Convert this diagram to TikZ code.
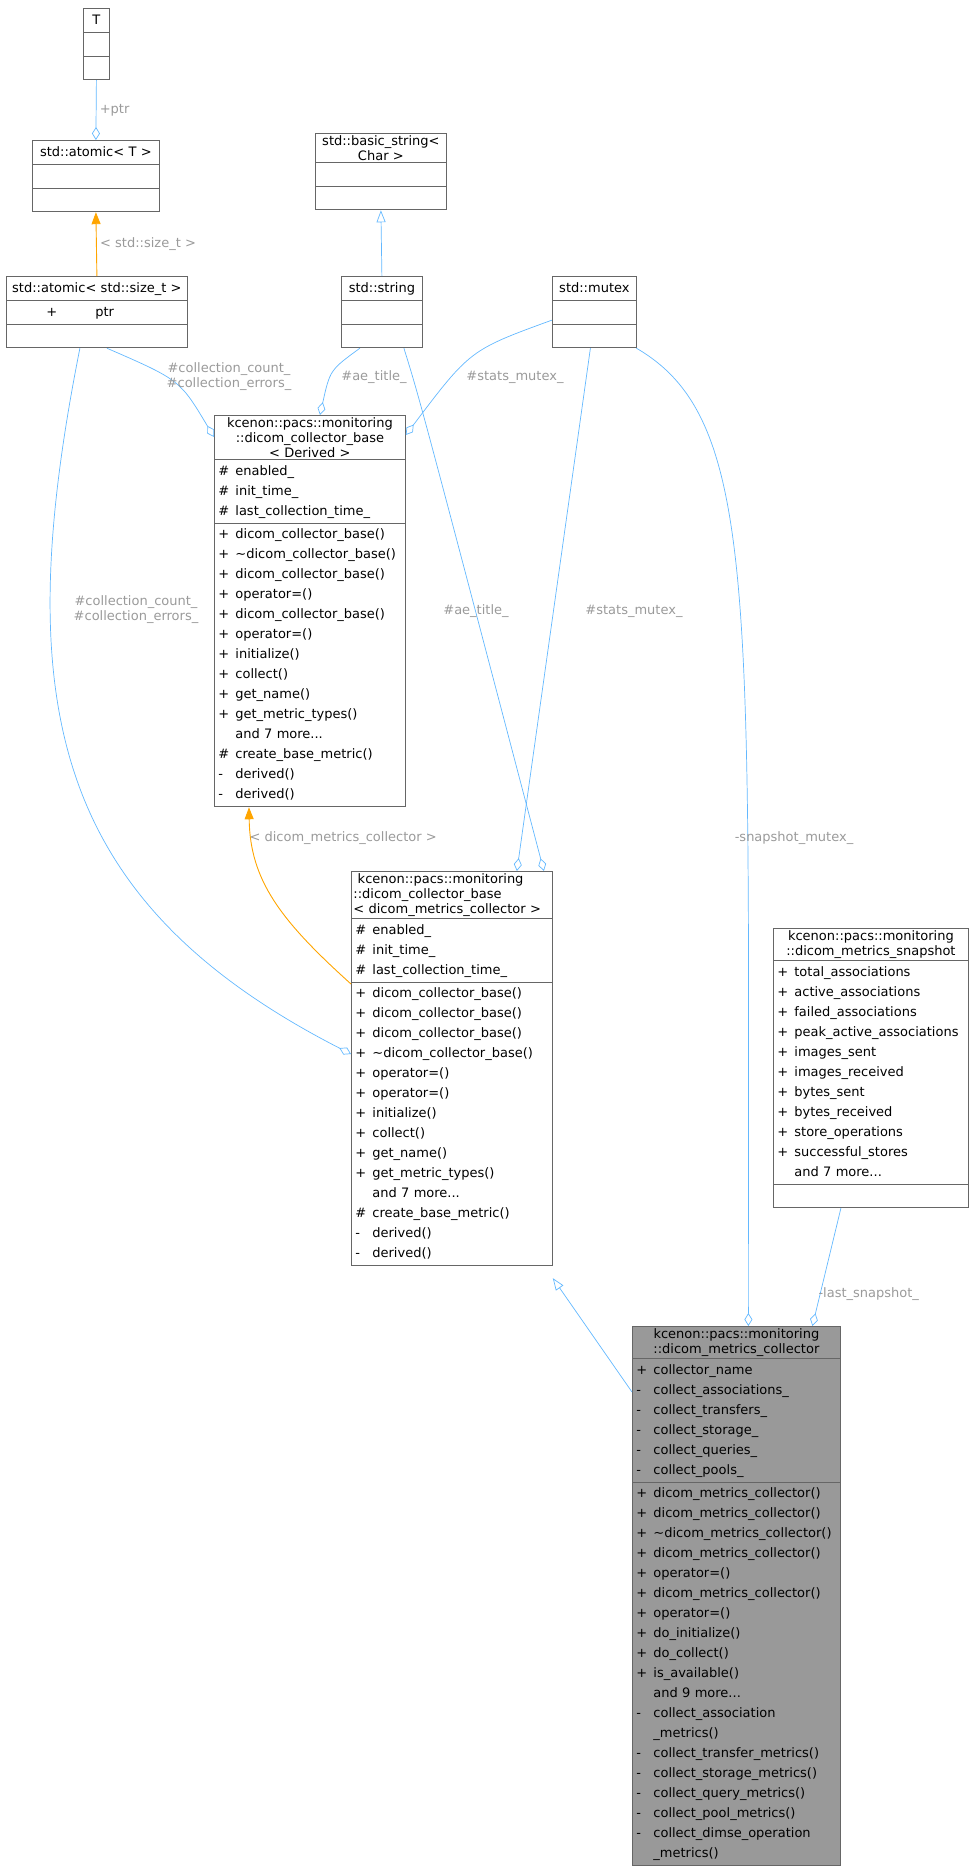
\documentclass[tikz,border=0pt]{standalone}
\usepackage{fontspec}
\setmainfont{DejaVu Sans}
\usetikzlibrary{shapes.multipart,arrows.meta}
\definecolor{edgeblue}{RGB}{99,184,255}
\definecolor{edgeorange}{RGB}{255,165,0}
\definecolor{labelgrey}{RGB}{154,154,154}
\definecolor{boxgrey}{RGB}{153,153,153}
\newcommand{\umlrow}[2]{\strut\makebox[19pt][l]{\hspace{2pt}#1}#2\\}
\newcommand{\umlmore}[1]{\strut\hspace*{19pt}#1\\}
\newcommand{\umltitle}[1]{{\fontsize{13}{15}\selectfont\centering #1\par}}
\tikzset{
  umlclass/.style={rectangle split, rectangle split parts=3, draw=black!60, line width=0.8pt,
    anchor=north west, inner xsep=2pt, inner ysep=1.5pt, font=\fontsize{13}{20}\selectfont,
    text width=#1, fill=white},
  agg/.style={draw=edgeblue, line width=0.7pt, -{Diamond[open,length=13pt,width=8pt]}},
  inherit/.style={draw=edgeblue, line width=0.7pt, -{Triangle[open,length=12pt,width=9pt]}},
  instance/.style={draw=edgeorange, line width=0.9pt, -{Triangle[length=12pt,width=9pt]}},
  edgelabel/.style={text=labelgrey, font=\fontsize{13}{15}\selectfont, align=center}
}
\begin{document}
\begin{tikzpicture}[x=1pt,y=-1pt]
\useasboundingbox (0,0) rectangle (979,1868);

% classes
\node (T) [umlclass=22pt] at (83,8) {\centering\strut T\par\nodepart{two}\strut\nodepart{three}\strut};
\node (atomicT) [umlclass=123pt] at (32,140) {\centering\strut std::atomic< T >\par\nodepart{two}\strut\nodepart{three}\strut};
\node (basicstr) [umlclass=127pt] at (315,133) {\umltitle{std::basic\_string<\\ Char >}\nodepart{two}\strut\nodepart{three}\strut};
\node (atomicsz) [umlclass=177pt] at (6,276) {\centering\strut std::atomic< std::size\_t >\par
  \nodepart{two}\strut\hspace*{38pt}+\hspace*{38pt}ptr\nodepart{three}\strut};
\node (string) [umlclass=77pt] at (341,276) {\centering\strut std::string\par\nodepart{two}\strut\nodepart{three}\strut};
\node (mutex) [umlclass=80pt] at (552,276) {\centering\strut std::mutex\par\nodepart{two}\strut\nodepart{three}\strut};

\node (basederived) [umlclass=187pt] at (214,415) {\umltitle{kcenon::pacs::monitoring\\ ::dicom\_collector\_base\\ < Derived >}
  \nodepart{two}\raggedright
  \umlrow{\#}{enabled\_}\umlrow{\#}{init\_time\_}\umlrow{\#}{last\_collection\_time\_}
  \nodepart{three}\raggedright
  \umlrow{+}{dicom\_collector\_base()}\umlrow{+}{\textasciitilde dicom\_collector\_base()}
  \umlrow{+}{dicom\_collector\_base()}\umlrow{+}{operator=()}
  \umlrow{+}{dicom\_collector\_base()}\umlrow{+}{operator=()}
  \umlrow{+}{initialize()}\umlrow{+}{collect()}\umlrow{+}{get\_name()}
  \umlrow{+}{get\_metric\_types()}\umlmore{and 7 more...}
  \umlrow{\#}{create\_base\_metric()}\umlrow{-}{derived()}\umlrow{-}{derived()}};

\node (basedmc) [umlclass=197pt] at (351,871) {{\fontsize{13}{15}\selectfont\raggedright
  \ kcenon::pacs::monitoring\\ ::dicom\_collector\_base\\ < dicom\_metrics\_collector >\par}
  \nodepart{two}\raggedright
  \umlrow{\#}{enabled\_}\umlrow{\#}{init\_time\_}\umlrow{\#}{last\_collection\_time\_}
  \nodepart{three}\raggedright
  \umlrow{+}{dicom\_collector\_base()}\umlrow{+}{dicom\_collector\_base()}
  \umlrow{+}{dicom\_collector\_base()}\umlrow{+}{\textasciitilde dicom\_collector\_base()}
  \umlrow{+}{operator=()}\umlrow{+}{operator=()}
  \umlrow{+}{initialize()}\umlrow{+}{collect()}\umlrow{+}{get\_name()}
  \umlrow{+}{get\_metric\_types()}\umlmore{and 7 more...}
  \umlrow{\#}{create\_base\_metric()}\umlrow{-}{derived()}\umlrow{-}{derived()}};

\node (snapshot) [umlclass=191pt] at (773,928) {\umltitle{kcenon::pacs::monitoring\\ ::dicom\_metrics\_snapshot}
  \nodepart{two}\raggedright
  \umlrow{+}{total\_associations}\umlrow{+}{active\_associations}
  \umlrow{+}{failed\_associations}\umlrow{+}{peak\_active\_associations}
  \umlrow{+}{images\_sent}\umlrow{+}{images\_received}\umlrow{+}{bytes\_sent}
  \umlrow{+}{bytes\_received}\umlrow{+}{store\_operations}\umlrow{+}{successful\_stores}
  \umlmore{and 7 more...}
  \nodepart{three}\strut};

\node (collector) [umlclass=204pt, fill=boxgrey] at (632,1326) {\umltitle{kcenon::pacs::monitoring\\ ::dicom\_metrics\_collector}
  \nodepart{two}\raggedright
  \umlrow{+}{collector\_name}\umlrow{-}{collect\_associations\_}\umlrow{-}{collect\_transfers\_}
  \umlrow{-}{collect\_storage\_}\umlrow{-}{collect\_queries\_}\umlrow{-}{collect\_pools\_}
  \nodepart{three}\raggedright
  \umlrow{+}{dicom\_metrics\_collector()}\umlrow{+}{dicom\_metrics\_collector()}
  \umlrow{+}{\textasciitilde dicom\_metrics\_collector()}\umlrow{+}{dicom\_metrics\_collector()}
  \umlrow{+}{operator=()}\umlrow{+}{dicom\_metrics\_collector()}\umlrow{+}{operator=()}
  \umlrow{+}{do\_initialize()}\umlrow{+}{do\_collect()}\umlrow{+}{is\_available()}
  \umlmore{and 9 more...}
  \umlrow{-}{collect\_association}\umlmore{\_metrics()}
  \umlrow{-}{collect\_transfer\_metrics()}\umlrow{-}{collect\_storage\_metrics()}
  \umlrow{-}{collect\_query\_metrics()}\umlrow{-}{collect\_pool\_metrics()}
  \umlrow{-}{collect\_dimse\_operation}\umlmore{\_metrics()}};

% connectors
\draw [agg] (T.south) -- node[edgelabel, right]{+ptr} (atomicT.north);
\draw [instance] (atomicsz.north) -- node[edgelabel, right]{< std::size\_t >} (atomicT.south);
\draw [inherit] (string.north) -- (basicstr.south);

\draw [agg] ([xshift=10pt]atomicsz.south) .. controls (180,380) .. ([yshift=-22pt]basederived.north west);
\draw [agg] ([xshift=-22pt]string.south) .. controls (330,370) .. ([xshift=106pt]basederived.north west);
\draw [agg] ([yshift=-8pt]mutex.west) .. controls (470,350) .. ([yshift=-20pt]basederived.north east);
\node [edgelabel] at (229,377) {\#collection\_count\_\\\#collection\_errors\_};
\node [edgelabel] at (374,377) {\#ae\_title\_};
\node [edgelabel] at (515,377) {\#stats\_mutex\_};

\draw [agg] ([xshift=-17pt]atomicsz.south) .. controls (10,700) and (50,900) .. ([yshift=-183pt]basedmc.north west);
\draw [agg] ([xshift=22pt]string.south) .. controls (420,400) .. ([xshift=92pt]basedmc.north);
\draw [agg] ([xshift=-4pt]mutex.south) -- ([xshift=65pt]basedmc.north);
\draw [agg] ([xshift=42pt]mutex.south) .. controls (760,420) and (748,600) .. ([xshift=12pt]collector.north);
\node [edgelabel] at (136,610) {\#collection\_count\_\\\#collection\_errors\_};
\node [edgelabel] at (476,611) {\#ae\_title\_};
\node [edgelabel] at (634,611) {\#stats\_mutex\_};
\node [edgelabel] at (794,838) {-snapshot\_mutex\_};

\draw [instance] ([yshift=-113pt]basedmc.north west) .. controls (280,920) and (250,880) .. ([xshift=35pt]basederived.south west);
\node [edgelabel, anchor=west] at (246,838) {< dicom\_metrics\_collector >};

\draw [inherit] ([yshift=-66pt]collector.north west) -- ([yshift=-12pt]basedmc.south east);
\draw [agg] ([xshift=-30pt]snapshot.south) -- ([xshift=76pt]collector.north);
\node [edgelabel, anchor=west] at (815,1294) {-last\_snapshot\_};
\end{tikzpicture}
\end{document}
